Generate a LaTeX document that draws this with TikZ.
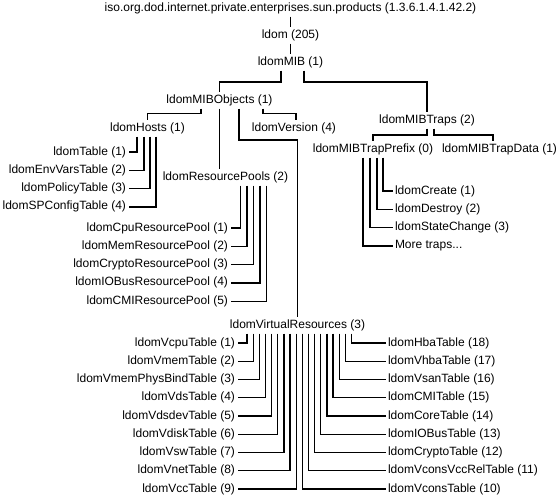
\documentclass[tikz,border=0pt]{standalone}
\usepackage{fontspec}
\setmainfont{Liberation Sans}
\begin{document}
\begin{tikzpicture}[x=1pt,y=-1pt,
  lbl/.style={inner sep=0pt, outer sep=2.5pt, text height=9pt, text depth=3pt, font=\fontsize{12}{14}\selectfont},
  conn/.style={line width=1.3pt}]
\useasboundingbox (0,0) rectangle (558,501);
% main nodes
\node[lbl] (iso) at (290.5,8) {iso.org.dod.internet.private.enterprises.sun.products (1.3.6.1.4.1.42.2)};
\node[lbl] (ldom) at (290.5,35) {ldom (205)};
\node[lbl] (mib) at (290.5,62) {ldomMIB (1)};
\node[lbl] (obj) at (219.5,100) {ldomMIBObjects (1)};
\node[lbl] (traps) at (427,120) {ldomMIBTraps (2)};
\node[lbl] (hosts) at (147.5,128) {ldomHosts (1)};
\node[lbl] (ver) at (294,128) {ldomVersion (4)};
\node[lbl] (pools) at (225.5,177) {ldomResourcePools (2)};
\node[lbl] (prefix) at (373,149) {ldomMIBTrapPrefix (0)};
\node[lbl] (tdata) at (499.5,149) {ldomMIBTrapData (1)};
\node[lbl] (vr) at (297.5,325) {ldomVirtualResources (3)};
% main connectors
\draw[conn] (iso) -- (ldom);
\draw[conn] (ldom) -- (mib);
\draw[conn] ([xshift=-9.5pt]mib.south) -- ++(0,11.5) -| (obj.north);
\draw[conn] ([xshift=13.5pt]mib.south) -- ++(0,11.5) -| (traps.north);
\draw[conn] ([xshift=-18.5pt]obj.south) -- ++(0,5) -| (hosts.north);
\draw[conn] (obj.south) -- (obj.south |- pools.north);
\draw[conn] ([xshift=19.5pt]obj.south) -- ++(0,31.5) -| (vr.north);
\draw[conn] ([xshift=43.5pt]obj.south) -- ++(0,5) -| ([xshift=2pt]ver.north);
\draw[conn] (traps.south) -- ++(0,6.5) -| (prefix.north);
\draw[conn] ([xshift=7pt]traps.south) -- ++(0,6.5) -| ([xshift=-6.5pt]tdata.north);
% hosts children
\foreach \k/\nm/\dx in {1/ldomTable (1)/-10.5, 2/ldomEnvVarsTable (2)/-3.5, 3/ldomPolicyTable (3)/2.5, 4/ldomSPConfigTable (4)/8.5}{
  \node[lbl, anchor=east] (h\k) at (128.5,{152+(\k-1)*18.3}) {\nm};
  \draw[conn] ([xshift=\dx pt]hosts.south) |- (h\k.east);
}
% pool children
\foreach \k/\nm/\dx in {1/ldomCpuResourcePool (1)/15, 2/ldomMemResourcePool (2)/21.5, 3/ldomCryptoResourcePool (3)/28, 4/ldomIOBusResourcePool (4)/34.5, 5/ldomCMIResourcePool (5)/41}{
  \node[lbl, anchor=east] (p\k) at (230.5,{228+(\k-1)*18.3}) {\nm};
  \draw[conn] ([xshift=\dx pt]pools.south) |- (p\k.east);
}
% trap children
\node[lbl, anchor=west] (c1) at (392.5,191) {ldomCreate (1)};
\node[lbl, anchor=west] (c2) at (392.5,209.3) {ldomDestroy (2)};
\node[lbl, anchor=west] (c3) at (392.5,227.6) {ldomStateChange (3)};
\node[lbl, anchor=west] (c4) at (392.5,245.9) {More traps...};
\draw[conn] ([xshift=10pt]prefix.south) |- (c1.west);
\draw[conn] ([xshift=4pt]prefix.south) |- (c2.west);
\draw[conn] ([xshift=-3pt]prefix.south) |- (c3.west);
\draw[conn] ([xshift=-10pt]prefix.south) |- (c4.west);
% virtual resources children
\foreach \k/\nm in {1/ldomVcpuTable, 2/ldomVmemTable, 3/ldomVmemPhysBindTable, 4/ldomVdsTable, 5/ldomVdsdevTable, 6/ldomVdiskTable, 7/ldomVswTable, 8/ldomVnetTable, 9/ldomVccTable}{
  \pgfmathsetmacro\dx{-50.5+(\k-1)*6.15}
  \node[lbl, anchor=east] (v\k) at (237.5,{343+(\k-1)*18.25}) {\nm\ (\k)};
  \draw[conn] ([xshift=\dx pt]vr.south) |- (v\k.east);
}
\foreach \k/\nm in {10/ldomVconsTable, 11/ldomVconsVccRelTable, 12/ldomCryptoTable, 13/ldomIOBusTable, 14/ldomCoreTable, 15/ldomCMITable, 16/ldomVsanTable, 17/ldomVhbaTable, 18/ldomHbaTable}{
  \pgfmathsetmacro\dx{-50.5+(\k-1)*6.15}
  \node[lbl, anchor=west] (v\k) at (385.5,{343+(18-\k)*18.25}) {\nm\ (\k)};
  \draw[conn] ([xshift=\dx pt]vr.south) |- (v\k.west);
}
\end{tikzpicture}
\end{document}
